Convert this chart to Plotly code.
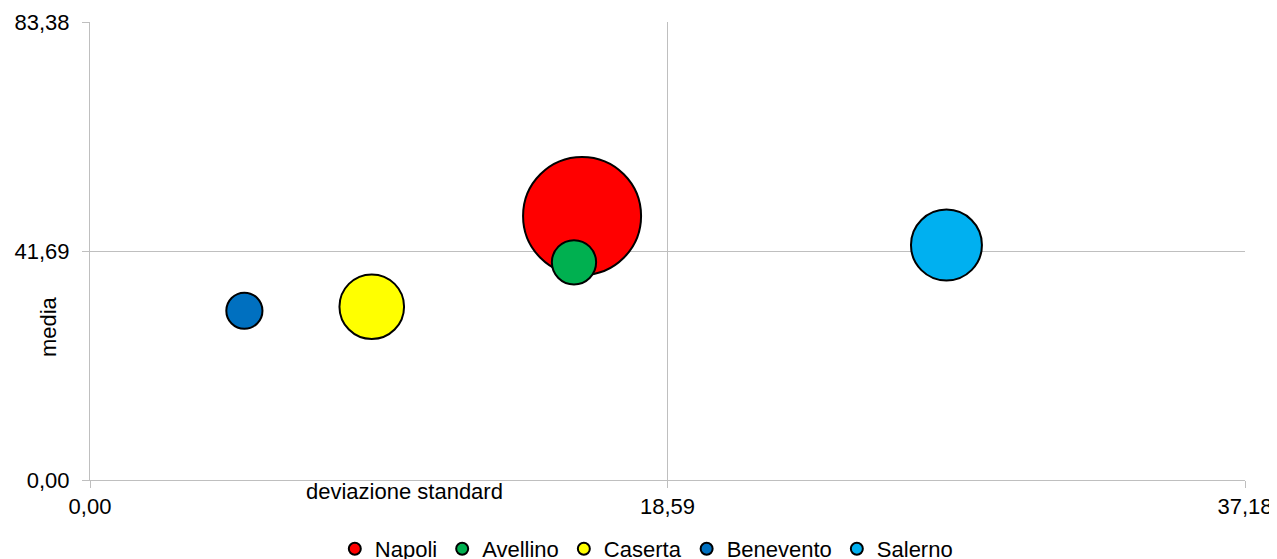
import plotly.graph_objects as go

# Data
provinces = ["Napoli", "Avellino", "Caserta", "Benevento", "Salerno"]
dev_std = [15.84, 15.58, 9.07, 4.97, 27.57]
media = [48.06, 39.63, 31.55, 30.82, 42.78]
popolazione = [3055, 430, 916, 287, 1105]
colors = ["#FF0000", "#00B050", "#FFFF00", "#0070C0", "#00B0F0"]

x_ticks = [0.0, 18.59, 37.18]
y_ticks = [0.0, 41.69, 83.38]

FONT = "Liberation Sans, Arial, sans-serif"
max_diam = 118
sizeref = 2.0 * max(popolazione) / (max_diam ** 2)

fig = go.Figure()
for name, xv, yv, s, c in zip(provinces, dev_std, media, popolazione, colors):
    fig.add_trace(go.Scatter(
        x=[xv], y=[yv], name=name, mode="markers",
        marker=dict(size=[s], sizemode="area", sizeref=sizeref, color=c,
                    opacity=1, line=dict(color="black", width=2)),
    ))

axis_common = dict(
    showgrid=True, gridcolor="#BFBFBF", gridwidth=1,
    zeroline=False, showline=True, linecolor="#BFBFBF", linewidth=1,
    ticks="outside", ticklen=7, tickcolor="#BFBFBF", tickwidth=1,
    tickformat=".2f", tickfont=dict(family=FONT, size=22, color="black"),
    fixedrange=True, automargin=False,
)

fig.update_xaxes(range=[x_ticks[0], x_ticks[-1]], tickvals=x_ticks, **axis_common)
fig.update_yaxes(range=[y_ticks[0], y_ticks[-1]], tickvals=y_ticks,
                 ticklabelstandoff=8, **axis_common)

fig.add_annotation(text="deviazione standard", xref="paper", yref="paper",
                   x=0.272, y=-0.026, xanchor="center", yanchor="middle",
                   showarrow=False, font=dict(family=FONT, size=22, color="black"))
fig.add_annotation(text="media", xref="paper", yref="paper",
                   x=-0.0364, y=0.336, xanchor="center", yanchor="middle",
                   textangle=-90, showarrow=False,
                   font=dict(family=FONT, size=22, color="black"))

# the page body has an 8px margin, so the figure is 8px smaller and offset
fig.update_layout(
    width=1269, height=551,
    margin=dict(l=82, r=32, t=14, b=79, autoexpand=False),
    plot_bgcolor="white", paper_bgcolor="white",
    separators=",.",
    showlegend=True,
    legend=dict(orientation="h", xref="container", yref="paper",
                x=0.503, xanchor="center", y=-0.1507, yanchor="middle",
                itemsizing="constant", font=dict(family=FONT, size=22, color="black"),
                bgcolor="rgba(0,0,0,0)", tracegroupgap=0),
)

fig.write_html("out.html")
